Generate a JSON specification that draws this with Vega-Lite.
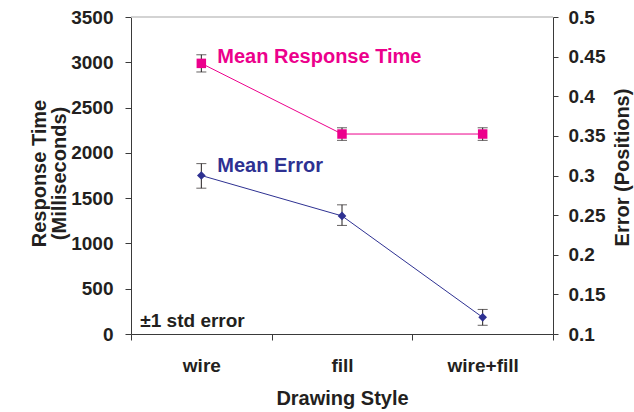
{
  "$schema": "https://vega.github.io/schema/vega-lite/v6.json",
  "width": 422,
  "height": 317,
  "autosize": {"type": "none"},
  "padding": {"left": 131, "top": 17, "right": 81, "bottom": 78},
  "background": "white",
  "config": {
    "font": "Liberation Sans",
    "view": {"stroke": null},
    "axis": {
      "labelFont": "Liberation Sans", "labelFontWeight": "bold", "labelFontSize": 19, "labelColor": "#231F20",
      "titleFont": "Liberation Sans", "titleFontWeight": "bold", "titleFontSize": 20, "titleColor": "#231F20",
      "domainColor": "#3a3a3a", "tickColor": "#3a3a3a", "grid": false, "tickSize": 6, "domainWidth": 1, "tickWidth": 1,
      "labelOverlap": false
    },
    "axisX": {"labelPadding": 16, "titlePadding": 13, "tickBand": "extent", "labelAngle": 0},
    "axisLeft": {"labelPadding": 12, "titleLineHeight": 20, "titleAngle": -90, "titleAlign": "center", "titleBaseline": "middle", "titleX": -92, "titleY": 156},
    "axisRight": {"labelPadding": 10, "titleAngle": -90, "titleAlign": "center", "titleBaseline": "middle", "titleX": 69, "titleY": 150, "tickSize": 5}
  },
  "datasets": {
    "main": [
      {"style": "wire", "rt": 2988, "rt_lo": 2893, "rt_hi": 3083, "err": 0.300, "err_lo": 0.284, "err_hi": 0.315},
      {"style": "fill", "rt": 2208, "rt_lo": 2138, "rt_hi": 2277, "err": 0.249, "err_lo": 0.237, "err_hi": 0.263},
      {"style": "wire+fill", "rt": 2208, "rt_lo": 2138, "rt_hi": 2277, "err": 0.121, "err_lo": 0.111, "err_hi": 0.131}
    ],
    "top": [{"rt": 3500}],
    "pinkLabel": [{"style": "wire", "rt": 2988, "label": "Mean Response Time"}],
    "noteLabel": [{"style": "wire", "rt": 0, "label": "±1 std error"}],
    "blueLabel": [{"style": "wire", "err": 0.300, "label": "Mean Error"}]
  },
  "layer": [
    {
      "layer": [
        {
          "data": {"name": "top"},
          "mark": {"type": "rule", "color": "#c4c4c4", "strokeWidth": 1.5},
          "encoding": {
            "y": {"field": "rt", "type": "quantitative", "scale": {"domain": [0, 3500], "nice": false}, "title": ["Response Time", "(Milliseconds)"],
                  "axis": {"orient": "left", "values": [0, 500, 1000, 1500, 2000, 2500, 3000, 3500], "format": "d"}}
          }
        },
        {
          "data": {"name": "main"},
          "mark": {"type": "line", "color": "#EC008C", "strokeWidth": 1},
          "encoding": {
            "x": {"field": "style", "type": "nominal", "sort": ["wire", "fill", "wire+fill"], "scale": {"paddingInner": 0, "paddingOuter": 0}, "title": "Drawing Style"},
            "y": {"field": "rt", "type": "quantitative", "scale": {"domain": [0, 3500], "nice": false}, "title": ["Response Time", "(Milliseconds)"],
                  "axis": {"orient": "left", "values": [0, 500, 1000, 1500, 2000, 2500, 3000, 3500], "format": "d"}}
          }
        },
        {
          "data": {"name": "main"},
          "mark": {"type": "rule", "color": "#231F20", "strokeWidth": 1},
          "encoding": {
            "x": {"field": "style", "type": "nominal", "sort": ["wire", "fill", "wire+fill"], "title": "Drawing Style"},
            "y": {"field": "rt_lo", "type": "quantitative", "title": ["Response Time", "(Milliseconds)"],
                  "axis": {"orient": "left", "values": [0, 500, 1000, 1500, 2000, 2500, 3000, 3500], "format": "d"}},
            "y2": {"field": "rt_hi"}
          }
        },
        {
          "data": {"name": "main"},
          "mark": {"type": "tick", "color": "#231F20", "size": 10, "thickness": 1},
          "encoding": {
            "x": {"field": "style", "type": "nominal", "sort": ["wire", "fill", "wire+fill"], "title": "Drawing Style"},
            "y": {"field": "rt_lo", "type": "quantitative", "title": ["Response Time", "(Milliseconds)"],
                  "axis": {"orient": "left", "values": [0, 500, 1000, 1500, 2000, 2500, 3000, 3500], "format": "d"}}
          }
        },
        {
          "data": {"name": "main"},
          "mark": {"type": "tick", "color": "#231F20", "size": 10, "thickness": 1},
          "encoding": {
            "x": {"field": "style", "type": "nominal", "sort": ["wire", "fill", "wire+fill"], "title": "Drawing Style"},
            "y": {"field": "rt_hi", "type": "quantitative", "title": ["Response Time", "(Milliseconds)"],
                  "axis": {"orient": "left", "values": [0, 500, 1000, 1500, 2000, 2500, 3000, 3500], "format": "d"}}
          }
        },
        {
          "data": {"name": "main"},
          "mark": {"type": "point", "shape": "square", "filled": true, "color": "#EC008C", "size": 90, "opacity": 1},
          "encoding": {
            "x": {"field": "style", "type": "nominal", "sort": ["wire", "fill", "wire+fill"], "title": "Drawing Style"},
            "y": {"field": "rt", "type": "quantitative", "title": ["Response Time", "(Milliseconds)"],
                  "axis": {"orient": "left", "values": [0, 500, 1000, 1500, 2000, 2500, 3000, 3500], "format": "d"}}
          }
        },
        {
          "data": {"name": "pinkLabel"},
          "mark": {"type": "text", "color": "#EC008C", "fontSize": 20, "fontWeight": "bold", "align": "left", "baseline": "alphabetic", "dx": 16, "dy": 0},
          "encoding": {
            "x": {"field": "style", "type": "nominal", "sort": ["wire", "fill", "wire+fill"], "title": "Drawing Style"},
            "y": {"field": "rt", "type": "quantitative", "title": ["Response Time", "(Milliseconds)"],
                  "axis": {"orient": "left", "values": [0, 500, 1000, 1500, 2000, 2500, 3000, 3500], "format": "d"}},
            "text": {"field": "label"}
          }
        },
        {
          "data": {"name": "noteLabel"},
          "mark": {"type": "text", "color": "#231F20", "fontSize": 19, "fontWeight": "bold", "align": "left", "baseline": "alphabetic", "dx": -61, "dy": -7},
          "encoding": {
            "x": {"field": "style", "type": "nominal", "sort": ["wire", "fill", "wire+fill"], "title": "Drawing Style"},
            "y": {"field": "rt", "type": "quantitative", "title": ["Response Time", "(Milliseconds)"],
                  "axis": {"orient": "left", "values": [0, 500, 1000, 1500, 2000, 2500, 3000, 3500], "format": "d"}},
            "text": {"field": "label"}
          }
        }
      ]
    },
    {
      "layer": [
        {
          "data": {"name": "main"},
          "mark": {"type": "line", "color": "#2E3192", "strokeWidth": 1},
          "encoding": {
            "x": {"field": "style", "type": "nominal", "sort": ["wire", "fill", "wire+fill"], "title": "Drawing Style"},
            "y": {"field": "err", "type": "quantitative", "scale": {"domain": [0.1, 0.5], "nice": false, "zero": false}, "title": "Error (Positions)",
                  "axis": {"orient": "right", "values": [0.1, 0.15, 0.2, 0.25, 0.3, 0.35, 0.4, 0.45, 0.5], "format": ".2~f"}}
          }
        },
        {
          "data": {"name": "main"},
          "mark": {"type": "rule", "color": "#231F20", "strokeWidth": 1},
          "encoding": {
            "x": {"field": "style", "type": "nominal", "sort": ["wire", "fill", "wire+fill"], "title": "Drawing Style"},
            "y": {"field": "err_lo", "type": "quantitative", "title": "Error (Positions)",
                  "axis": {"orient": "right", "values": [0.1, 0.15, 0.2, 0.25, 0.3, 0.35, 0.4, 0.45, 0.5], "format": ".2~f"}},
            "y2": {"field": "err_hi"}
          }
        },
        {
          "data": {"name": "main"},
          "mark": {"type": "tick", "color": "#231F20", "size": 10, "thickness": 1},
          "encoding": {
            "x": {"field": "style", "type": "nominal", "sort": ["wire", "fill", "wire+fill"], "title": "Drawing Style"},
            "y": {"field": "err_lo", "type": "quantitative", "title": "Error (Positions)",
                  "axis": {"orient": "right", "values": [0.1, 0.15, 0.2, 0.25, 0.3, 0.35, 0.4, 0.45, 0.5], "format": ".2~f"}}
          }
        },
        {
          "data": {"name": "main"},
          "mark": {"type": "tick", "color": "#231F20", "size": 10, "thickness": 1},
          "encoding": {
            "x": {"field": "style", "type": "nominal", "sort": ["wire", "fill", "wire+fill"], "title": "Drawing Style"},
            "y": {"field": "err_hi", "type": "quantitative", "title": "Error (Positions)",
                  "axis": {"orient": "right", "values": [0.1, 0.15, 0.2, 0.25, 0.3, 0.35, 0.4, 0.45, 0.5], "format": ".2~f"}}
          }
        },
        {
          "data": {"name": "main"},
          "mark": {"type": "point", "shape": "diamond", "filled": true, "color": "#2E3192", "size": 75, "opacity": 1},
          "encoding": {
            "x": {"field": "style", "type": "nominal", "sort": ["wire", "fill", "wire+fill"], "title": "Drawing Style"},
            "y": {"field": "err", "type": "quantitative", "title": "Error (Positions)",
                  "axis": {"orient": "right", "values": [0.1, 0.15, 0.2, 0.25, 0.3, 0.35, 0.4, 0.45, 0.5], "format": ".2~f"}}
          }
        },
        {
          "data": {"name": "blueLabel"},
          "mark": {"type": "text", "color": "#2E3192", "fontSize": 20, "fontWeight": "bold", "align": "left", "baseline": "alphabetic", "dx": 16, "dy": -4},
          "encoding": {
            "x": {"field": "style", "type": "nominal", "sort": ["wire", "fill", "wire+fill"], "title": "Drawing Style"},
            "y": {"field": "err", "type": "quantitative", "title": "Error (Positions)",
                  "axis": {"orient": "right", "values": [0.1, 0.15, 0.2, 0.25, 0.3, 0.35, 0.4, 0.45, 0.5], "format": ".2~f"}},
            "text": {"field": "label"}
          }
        }
      ]
    }
  ],
  "resolve": {"scale": {"y": "independent"}, "axis": {"y": "independent"}}
}
